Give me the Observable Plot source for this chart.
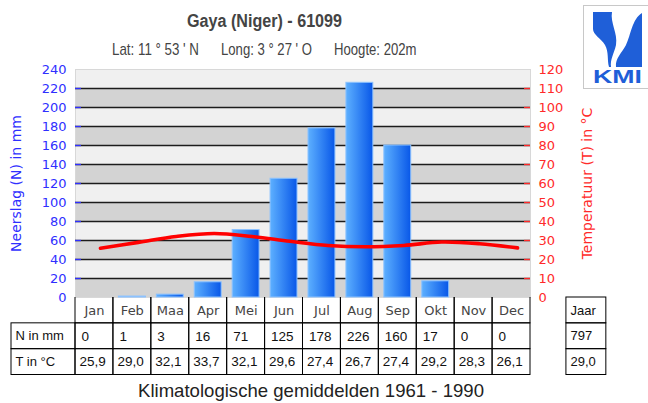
<!DOCTYPE html>
<html><head><meta charset="utf-8">
<script src="https://cdn.jsdelivr.net/npm/d3@7"></script>
<script src="https://cdn.jsdelivr.net/npm/@observablehq/plot@0.6"></script>
<style>
html,body{margin:0;padding:0;background:#fff;}
#root{position:relative;width:648px;height:403px;overflow:hidden;background:#fff;}
#root svg{position:absolute;left:0;}
</style></head><body><div id="root"></div>
<script>
// ---- data ----
const months = ["Jan","Feb","Maa","Apr","Mei","Jun","Jul","Aug","Sep","Okt","Nov","Dec"];
const precipitation = [0,1,3,16,71,125,178,226,160,17,0,0];
const temperature = [25.9,29.0,32.1,33.7,32.1,29.6,27.4,26.7,27.4,29.2,28.3,26.1];
const mmTicks = [0,20,40,60,80,100,120,140,160,180,200,220,240];
const rowLabels = ["N in mm","T in °C"];
const yearLabel = "Jaar";
const yearValues = ["797","29,0"];
const titleText = "Gaya (Niger) - 61099";
const subtitleParts = ["Lat: 11 ° 53 ' N","Long: 3 ° 27 ' O","Hoogte: 202m"];
const captionText = "Klimatologische gemiddelden 1961 - 1990";
const leftTitle = "Neerslag (N) in mm";
const rightTitle = "Temperatuur (T) in °C";

const data = months.map((m,i)=>({month:m, N:precipitation[i], T:temperature[i]}));
const fmtT = v => v.toFixed(1).replace(".", ",");
const BLUE = "#2f2fff", RED = "#ff2a2a";

// ---- layout ----
const L = 75, R = 530, T = 69, B = 297, W = 648;
const root = document.getElementById("root");

const bands = mmTicks.slice(0,-1).map((y,i)=>({y1:y, y2:mmTicks[i+1], fill: i%2 ? "#f0f0f0" : "#d3d3d3"}));
const inner = mmTicks.slice(1,-1);

const chart = Plot.plot({
  width: W, height: 300,
  marginLeft: L, marginRight: W - R, marginTop: T, marginBottom: 300 - B,
  style: {background: "transparent", overflow: "visible", fontFamily: "DejaVu Sans", fontSize: "13px"},
  x: {domain: months, paddingInner: 0.29, paddingOuter: 0.145, round: false, axis: null},
  y: {domain: [0, 240], axis: null},
  marks: [
    Plot.rectY(bands, {y1: "y1", y2: "y2", fill: "fill"}),
    Plot.frame({stroke: "#d8d8d8"}),
    Plot.ruleY(inner, {stroke: "#1c1c1c", strokeWidth: 1.3}),
    Plot.ruleY(inner, {stroke: BLUE, strokeWidth: 1.3, insetRight: R - L - 6}),
    Plot.ruleY(inner, {stroke: RED, strokeWidth: 1.3, insetLeft: R - L - 6}),
    Plot.barY(data.filter(d => d.N > 0), {x: "month", y: "N", fill: "url(#barGrad)", stroke: "#8cc2ff", strokeWidth: 1}),
    Plot.line(data, {x: "month", y: d => d.T * 2, stroke: "#ff0000", strokeWidth: 3.6, curve: "catmull-rom", dx: 6}),
    Plot.axisY(mmTicks, {anchor: "left", tickSize: 0, tickPadding: 9, fill: BLUE, color: BLUE, fontSize: 13, fontFamily: "DejaVu Sans"}),
    Plot.axisY(mmTicks, {anchor: "right", tickSize: 0, tickPadding: 8, tickFormat: d => d / 2, fill: RED, color: RED, fontSize: 13, fontFamily: "DejaVu Sans"}),
    Plot.text([leftTitle], {text: d => d, frameAnchor: "left", textAnchor: "middle", rotate: -90, dx: 16 - L, fill: BLUE, fontSize: 14, fontFamily: "DejaVu Sans"}),
    Plot.text([rightTitle], {text: d => d, frameAnchor: "right", textAnchor: "middle", rotate: -90, dx: 587 - R, fill: RED, fontSize: 14, fontFamily: "DejaVu Sans"})
  ]
});
const defs = d3.select(chart).insert("defs", ":first-child");
const g = defs.append("linearGradient").attr("id", "barGrad").attr("x1", 0).attr("x2", 1).attr("y1", 0).attr("y2", 0);
g.append("stop").attr("offset", "0%").attr("stop-color", "#5db0ff");
g.append("stop").attr("offset", "100%").attr("stop-color", "#0857e8");
chart.style.top = "0px";
root.appendChild(chart);

// ---- table ----
const step = (R - L) / 12;
const cols = ["_lbl", ...months, "_gap", yearLabel];
const tTop = 296, tH = 80, frameTop = 1, frameBottomY = 374.5 - tTop;
const cells = [];
data.forEach(d => {
  cells.push({col: d.month, row: "N", text: String(d.N)});
  cells.push({col: d.month, row: "T", text: fmtT(d.T)});
});
const labelCells = [{row: "N", text: rowLabels[0]}, {row: "T", text: rowLabels[1]}];
const yearCells = [{row: "Maand", text: yearLabel}, {row: "N", text: yearValues[0]}, {row: "T", text: yearValues[1]}];

const table = Plot.plot({
  width: W, height: tH,
  marginLeft: L - step, marginRight: W - (L + step * 14), marginTop: frameTop, marginBottom: tH - frameBottomY,
  style: {background: "transparent", overflow: "visible", fontFamily: "Liberation Sans", fontSize: "13px"},
  x: {domain: cols, padding: 0, round: false, axis: null},
  y: {domain: ["Maand", "N", "T"], padding: 0, round: false, axis: null},
  marks: [
    Plot.cell(months, {x: d => d, y: () => "Maand", stroke: "#000", fill: "none", inset: 0, insetTop: -4, clip: true}),
    Plot.cell(cells, {x: "col", y: "row", stroke: "#000", fill: "none", inset: 0}),
    Plot.cell(labelCells, {x: () => "_lbl", y: "row", stroke: "#000", fill: "none", inset: 0, insetLeft: -(L - 11 - step)}),
    Plot.cell(yearCells, {x: () => yearLabel, y: "row", stroke: "#000", fill: "none", inset: 0, insetLeft: -2}),
    Plot.text(months, {x: d => d, y: () => "Maand", text: d => d, fontFamily: "DejaVu Sans", fontSize: 13, fill: "#444"}),
    Plot.text(cells.filter(c => c.row === "N"), {x: "col", y: "row", text: "text", textAnchor: "start", dx: -step / 2 + 6, fontSize: 13.5, fill: "#111"}),
    Plot.text(cells.filter(c => c.row === "T"), {x: "col", y: "row", text: "text", textAnchor: "start", dx: -step / 2 + 4, fontSize: 13.5, fill: "#111"}),
    Plot.text(labelCells, {x: () => "_lbl", y: "row", text: "text", textAnchor: "start", dx: 15 - (L - step / 2), fontSize: 13, fill: "#111"}),
    Plot.text(yearCells, {x: () => yearLabel, y: "row", text: "text", textAnchor: "start", dx: 570 - (L + step * 13.5), fontSize: 13, fill: "#111"})
  ]
});
table.style.top = tTop + "px";
root.appendChild(table);

// ---- titles, caption, logo ----
const deco = d3.create("svg").attr("width", W).attr("height", 403).style("top", "0px").style("pointer-events", "none")
  .style("font-family", "'Liberation Sans', Arial, sans-serif");
deco.append("text").attr("x", 187).attr("y", 27).attr("font-size", 18).attr("font-weight", "bold").attr("fill", "#444")
  .attr("textLength", 155).attr("lengthAdjust", "spacingAndGlyphs").text(titleText);
const subX = [112, 221, 334], subW = [87, 91, 82.5];
subtitleParts.forEach((s, i) => deco.append("text").attr("x", subX[i]).attr("y", 55).attr("font-size", 17).attr("fill", "#444")
  .attr("textLength", subW[i]).attr("lengthAdjust", "spacingAndGlyphs").text(s));
deco.append("text").attr("x", 138).attr("y", 397).attr("font-size", 18.5).attr("fill", "#222")
  .attr("textLength", 346).attr("lengthAdjust", "spacingAndGlyphs").text(captionText);
const logo = deco.append("g").attr("transform", "translate(583,5)");
logo.append("rect").attr("x", 0.5).attr("y", 0.5).attr("width", 70).attr("height", 83).attr("fill", "#fff").attr("stroke", "#c8c8c8");
logo.append("path").attr("fill", "#1f5fd8").attr("d", "M10,7 L29,7 C27,18 35,28 33,40 C31,49 27,54 28,62 L26,62 C24,55 26,47 22,40 C18,33 10,30 10,24 Z");
logo.append("path").attr("fill", "#1f5fd8").attr("d", "M59,8 L59,62 L33,62 C32,53 39,48 43,40 C48,30 49,14 59,8 Z");
logo.append("text").attr("x", 10).attr("y", 78).attr("font-size", 19).attr("font-weight", "bold").attr("fill", "#1f5fd8")
  .attr("textLength", 49).attr("lengthAdjust", "spacingAndGlyphs").text("KMI");
root.appendChild(deco.node());
</script></body></html>
